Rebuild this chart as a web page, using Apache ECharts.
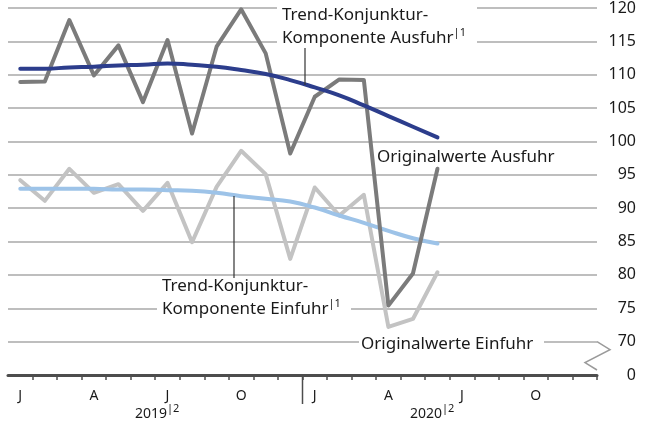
<!DOCTYPE html>
<html>
<head>
<meta charset="utf-8">
<title>Ausfuhr und Einfuhr</title>
<script src="https://cdn.jsdelivr.net/npm/echarts@6/dist/echarts.min.js"></script>
<style>
html, body { margin: 0; padding: 0; background: #fff; }
#chart { width: 651px; height: 422px; }
</style>
</head>
<body>
<div id="chart"></div>
<script>
// Monate Januar 2019 bis Dezember 2020
var months = ['2019-01','2019-02','2019-03','2019-04','2019-05','2019-06',
              '2019-07','2019-08','2019-09','2019-10','2019-11','2019-12',
              '2020-01','2020-02','2020-03','2020-04','2020-05','2020-06',
              '2020-07','2020-08','2020-09','2020-10','2020-11','2020-12'];
var monthLetters = ['J','F','M','A','M','J','J','A','S','O','N','D',
                    'J','F','M','A','M','J','J','A','S','O','N','D'];
var yTicks = [0, 70, 75, 80, 85, 90, 95, 100, 105, 110, 115, 120];

var ausfuhrOriginal = [108.9, 109.0, 118.2, 109.9, 114.4, 105.9, 115.2, 101.2, 114.2, 119.8, 113.2, 98.2,
                       106.7, 109.3, 109.2, 75.4, 80.2, 95.9];
var ausfuhrTrend    = [110.9, 110.9, 111.1, 111.2, 111.4, 111.5, 111.7, 111.5, 111.2, 110.7, 110.1, 109.2,
                       108.1, 106.9, 105.4, 103.8, 102.2, 100.6];
var einfuhrOriginal = [94.2, 91.1, 95.9, 92.3, 93.6, 89.6, 93.8, 84.9, 93.2, 98.6, 95.1, 82.4,
                       93.1, 88.9, 92.0, 72.2, 73.4, 80.4];
var einfuhrTrend    = [92.9, 92.9, 92.9, 92.9, 92.8, 92.8, 92.7, 92.6, 92.3, 91.8, 91.4, 91.0,
                       90.1, 88.9, 87.8, 86.6, 85.5, 84.7];

var FONT = '"Noto Sans", "Open Sans", sans-serif';
var GRID_COLOR = '#a9a9a9';
var TEXT_COLOR = '#1a1a1a';

// Achsenbruch: 0 wird auf 65 gelegt
var BREAK_AT = 65;

var chart = echarts.init(document.getElementById('chart'));

function line(name, data, color) {
    return {
        name: name,
        type: 'line',
        data: data,
        symbol: 'none',
        z: 3,
        lineStyle: { color: color, width: 4, cap: 'round', join: 'round' },
        silent: true
    };
}

var option = {
    animation: false,
    grid: { left: 8, right: 54, top: 8, bottom: 47 },
    xAxis: {
        type: 'category',
        data: months,
        boundaryGap: true,
        axisLine: { show: true, lineStyle: { color: '#4d4d4d', width: 3 } },
        axisTick: {
            show: true,
            length: 5,
            interval: function (i) { return i > 0; },
            lineStyle: { color: '#4d4d4d', width: 1.5 }
        },
        axisLabel: {
            interval: function (i) { return i % 3 === 0; },
            formatter: function (v, i) { return monthLetters[i]; },
            margin: 14,
            color: TEXT_COLOR,
            fontFamily: FONT,
            fontSize: 14
        },
        splitLine: { show: false }
    },
    yAxis: {
        type: 'value',
        position: 'right',
        min: BREAK_AT,
        max: 120,
        interval: 5,
        axisLine: { show: false },
        axisTick: { show: false },
        axisLabel: {
            align: 'right',
            margin: 39,
            color: TEXT_COLOR,
            fontFamily: FONT,
            fontSize: 16,
            formatter: function (v) { return v === BREAK_AT ? String(yTicks[0]) : String(v); }
        },
        splitLine: { show: true, lineStyle: { color: GRID_COLOR, width: 1.5 } }
    },
    series: [
        line('Originalwerte Einfuhr', einfuhrOriginal, '#c3c3c3'),
        line('Trend-Konjunktur-Komponente Einfuhr', einfuhrTrend, '#9dc3e8'),
        line('Originalwerte Ausfuhr', ausfuhrOriginal, '#7b7b7b'),
        line('Trend-Konjunktur-Komponente Ausfuhr', ausfuhrTrend, '#2c3d8c')
    ]
};
option.series[1].smooth = true;
option.series[3].smooth = true;

chart.setOption(option);

// Beschriftungen, Achsenbruch und Jahrestrenner
var y70 = chart.convertToPixel({ yAxisIndex: 0 }, 70);
var y0 = chart.convertToPixel({ yAxisIndex: 0 }, BREAK_AT);
var xDec = chart.convertToPixel({ xAxisIndex: 0 }, '2019-12');
var xJan = chart.convertToPixel({ xAxisIndex: 0 }, '2020-01');
var xSep = (xDec + xJan) / 2;
var xRight = 651 - 54;

var sup = { s: { fontSize: 11, fontFamily: FONT, fill: TEXT_COLOR, verticalAlign: 'top', lineHeight: 22 } };

function whiteBox(x, y, w, h) {
    return { type: 'rect', z: 1, silent: true, shape: { x: x, y: y, width: w, height: h }, style: { fill: '#fff' } };
}
function label(x, y, text, size) {
    return {
        type: 'text', z: 4, silent: true, x: x, y: y,
        style: {
            text: text, fill: TEXT_COLOR, font: (size || 17) + 'px ' + FONT,
            lineHeight: 23, rich: sup
        }
    };
}
function seg(x1, y1, x2, y2, color, w) {
    return { type: 'line', z: 4, silent: true, shape: { x1: x1, y1: y1, x2: x2, y2: y2 },
             style: { stroke: color, lineWidth: w } };
}

chart.setOption({
    graphic: [
        // Trend-Konjunktur-Komponente Ausfuhr
        whiteBox(277, 0, 200, 49),
        label(282, 4, 'Trend-Konjunktur-\nKomponente Ausfuhr{s||1}'),
        seg(305, 48, 305, 85, '#333', 1.2),
        // Originalwerte Ausfuhr
        label(377, 146, 'Originalwerte Ausfuhr'),
        // Trend-Konjunktur-Komponente Einfuhr
        whiteBox(157, 278, 194, 42),
        label(162, 275, 'Trend-Konjunktur-\nKomponente Einfuhr{s||1}'),
        seg(234, 196, 234, 278, '#333', 1.2),
        // Originalwerte Einfuhr
        whiteBox(359, 334, 185, 22),
        label(361, 333, 'Originalwerte Einfuhr'),
        // Achsenbruch
        {
            type: 'polyline', z: 4, silent: true,
            shape: { points: [[xRight, y70], [xRight + 13, y70 + 8], [xRight - 12, y70 + 21], [xRight, y0 - 5]] },
            style: { stroke: '#9a9a9a', lineWidth: 1.5, fill: null }
        },
        // Jahrestrenner
        seg(xSep, y0, xSep, y0 + 29, '#4d4d4d', 1.5),
        // Jahre
        label(135, 403, '2019{s||2}', 14),
        label(410, 403, '2020{s||2}', 14)
    ]
});
</script>
</body>
</html>
